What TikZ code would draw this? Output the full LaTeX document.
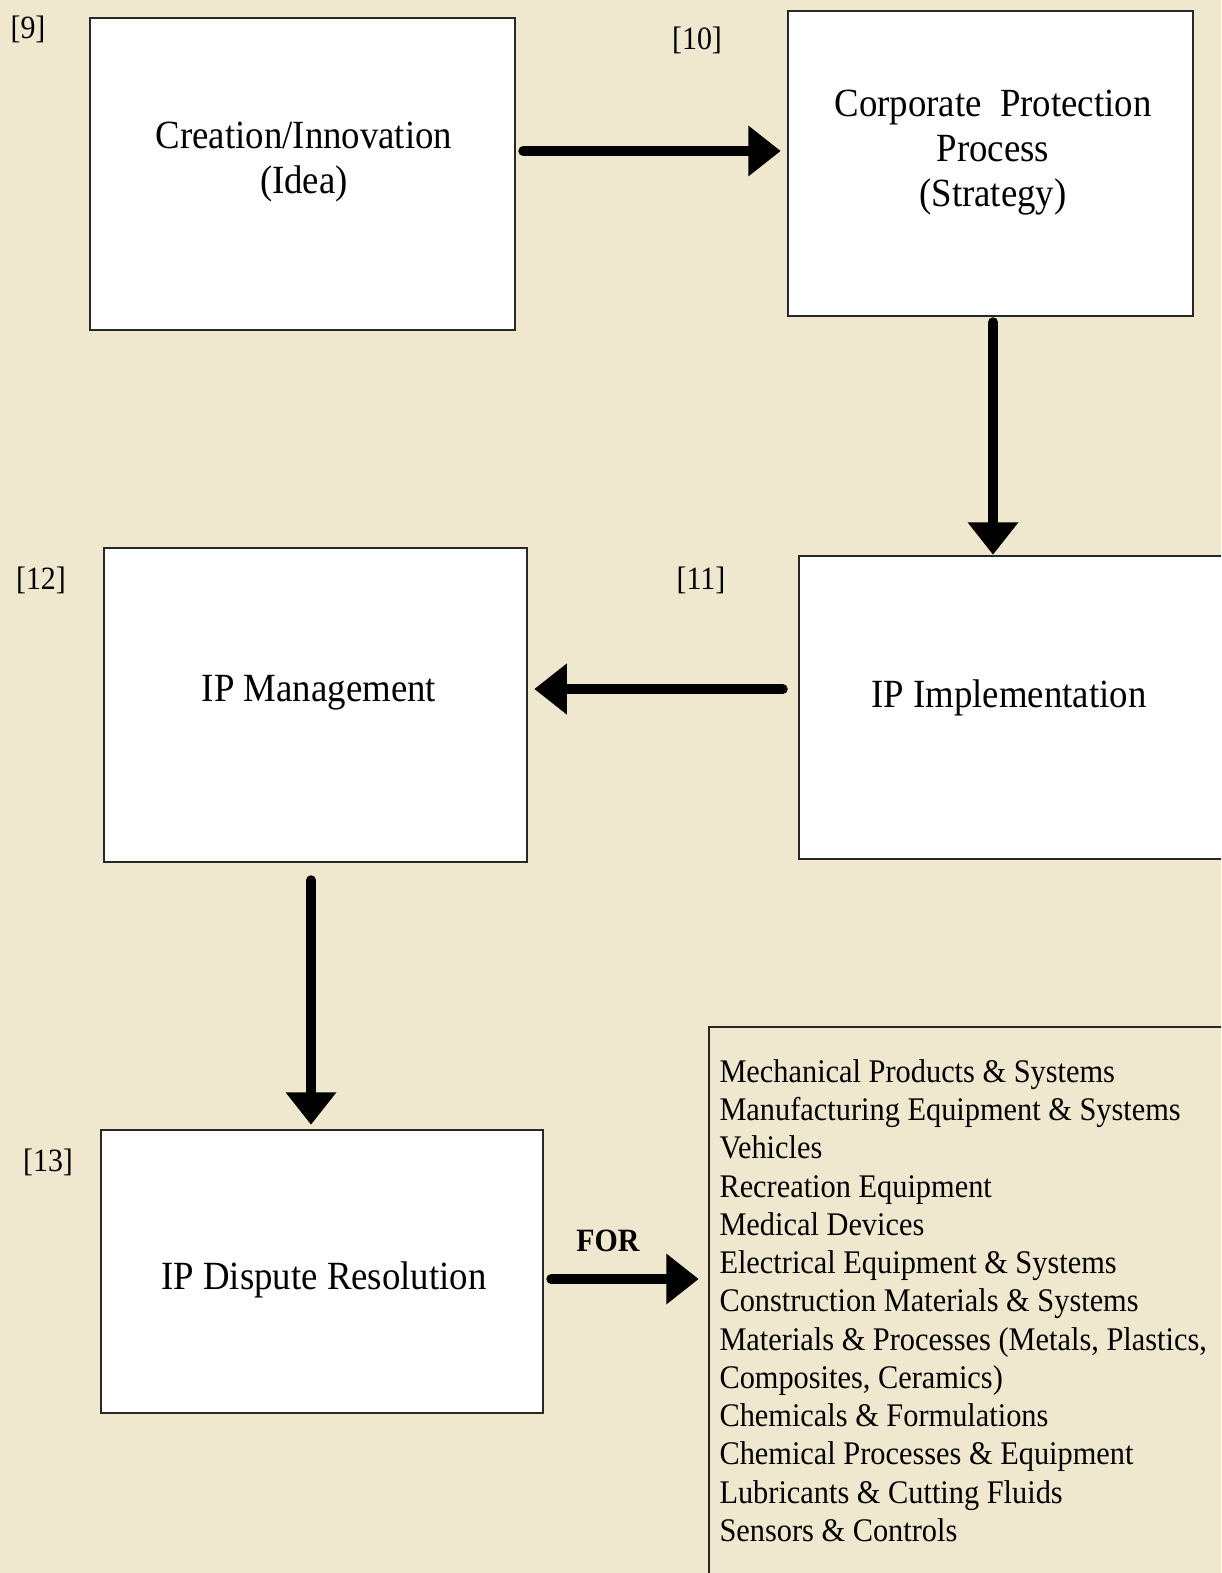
\documentclass[tikz,border=0pt]{standalone}
\usepackage{fontspec}
\setmainfont{Liberation Serif}[FakeStretch=0.92]
\usetikzlibrary{arrows.meta,positioning}
\definecolor{paper}{RGB}{240,231,207}
\definecolor{boxline}{RGB}{40,40,40}
\tikzset{
  stage/.style={rectangle, draw=boxline, line width=1pt, fill=white},
  stxt/.style={font=\fontsize{16}{18}\selectfont, align=center, inner sep=0pt},
  tag/.style={font=\fontsize{13}{15}\selectfont, inner sep=0pt},
  flow/.style={line width=4pt, line cap=round, -{Triangle[length=13pt,width=19.5pt]}},
}

\begin{document}
\begin{tikzpicture}[x=0.4pt, y=-0.4pt,
    lstxt/.style={font=\fontsize{13.2}{15.3}\selectfont, align=left, inner sep=0pt}]

  \useasboundingbox (0,0) rectangle (1221,1573);
  % paper background
  \fill[paper] (0,0) rectangle (1221,1573);
  \clip (0,0) rectangle (1221,1573);

  % Stage boxes
  \node[stage, minimum width=170pt, minimum height=124.8pt] (idea) at (302.5,174) {};
  \node[stage, minimum width=162pt, minimum height=122pt] (strategy) at (990.5,163.5) {};
  \node[stage, minimum width=174.8pt, minimum height=121.2pt] (implement) at (1017.5,707.5) {};
  \node[stage, minimum width=169.2pt, minimum height=125.6pt] (manage) at (315.5,705) {};
  \node[stage, minimum width=176.8pt, minimum height=113.2pt] (dispute) at (322,1271.5) {};

  % Field list box (runs off the page)
  \node[rectangle, draw=boxline, line width=1pt, minimum width=212.4pt, minimum height=229.2pt] (fields) at (974.5,1313.5) {};

  % Box texts
  \node[stxt] (ideatxt) at (304,162) {Creation/Innovation\\(Idea)};
  \node[stxt] (strategytxt) at (993,153) {Corporate\ \ Protection\\Process\\(Strategy)};
  \node[stxt] (implementtxt) at (1009,698) {IP Implementation};
  \node[stxt] (managetxt) at (319,693) {IP Management};
  \node[stxt] (disputetxt) at (324,1280) {IP Dispute Resolution};

  % Step numbers
  \node[tag] (n9) at (28,29) {[9]};
  \node[tag] (n10) at (697,40) {[10]};
  \node[tag] (n11) at (701,580) {[11]};
  \node[tag] (n12) at (41,580) {[12]};
  \node[tag] (n13) at (48,1162) {[13]};

  % Flow arrows
  \draw[flow, shorten <=2.8pt, shorten >=2.4pt] (idea.east |- 0,151) -- (strategy.west |- 0,151);
  \draw[flow, shorten <=2pt] (strategy.south -| 993,0) -- (implement.north -| 993,0);
  \draw[flow, shorten <=6pt, shorten >=2.4pt] (implement.west |- 0,689) -- (manage.east |- 0,689);
  \draw[flow, shorten <=6.8pt, shorten >=1.6pt] (manage.south -| 311,0) -- (dispute.north -| 311,0);
  \draw[flow, shorten <=2.8pt, shorten >=3.6pt] (dispute.east |- 0,1279) -- (fields.west |- 0,1279);
  \node[tag, font=\bfseries\fontsize{13}{15}\selectfont] (forlbl) at (608,1241) {FOR};

  % Fields
  \node[lstxt, anchor=north west] (fieldlist) at (719,1059) {Mechanical Products \& Systems\\
    Manufacturing Equipment \& Systems\\
    Vehicles\\
    Recreation Equipment\\
    Medical Devices\\
    Electrical Equipment \& Systems\\
    Construction Materials \& Systems\\
    Materials \& Processes (Metals, Plastics,\\
    Composites, Ceramics)\\
    Chemicals \& Formulations\\
    Chemical Processes \& Equipment\\
    Lubricants \& Cutting Fluids\\
    Sensors \& Controls};
\end{tikzpicture}
\end{document}
